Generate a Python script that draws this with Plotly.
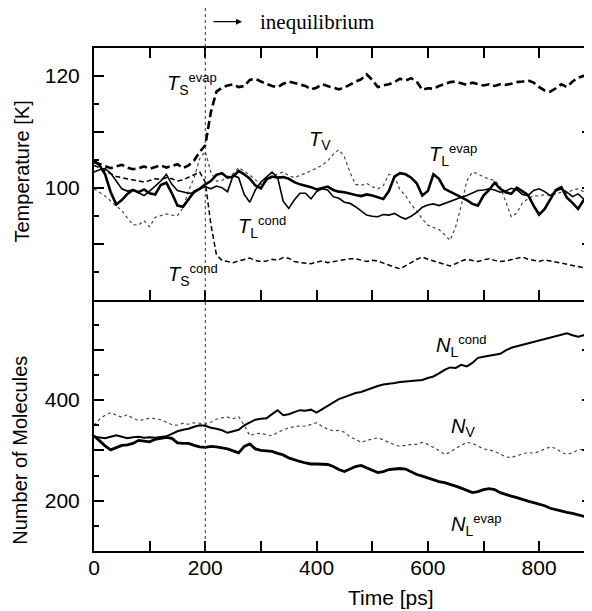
import plotly.graph_objects as go
from plotly.subplots import make_subplots

# time axis, one sample every 10 ps
time_ps = list(range(0, 901, 10))

# top panel: temperatures [K]
ts_evap = [104.6, 104.2, 103.8, 103.5, 103.8, 104.1, 103.6, 103.3, 103.5, 103.8,
           103.4, 103.7, 104.0, 103.6, 103.9, 104.2, 103.5, 104.0, 104.9, 106.4,
           107.6, 113.5, 117.2, 117.9, 118.3, 118.5, 118.0, 118.2, 119.3, 119.5,
           119.0, 118.6, 118.2, 118.0, 118.6, 119.0, 118.7, 118.4, 118.2, 117.6,
           117.9, 118.5, 118.2, 117.9, 117.6, 117.9, 118.5, 119.0, 119.4, 120.3,
           119.3, 118.0, 118.3, 118.5, 118.9, 119.5, 119.2, 119.6, 119.0, 117.5,
           117.8, 117.7, 118.2, 118.6, 118.9, 119.0, 118.7, 118.4, 118.8, 118.5,
           118.3, 118.5, 118.2, 118.5, 118.4, 118.6, 118.9, 119.0, 119.2, 118.8,
           118.0, 117.4, 117.2, 117.8, 118.5, 118.0, 119.0, 119.7, 120.0, 119.9,
           119.6]
ts_cond = [104.0, 103.6, 103.0, 102.5, 102.0, 101.8, 101.6, 101.4, 101.1, 101.0,
           101.3, 101.6, 101.5, 101.8, 101.6, 101.2, 101.4, 101.9, 102.4, 102.8,
           101.0, 93.5, 88.0, 87.0, 86.8, 86.6, 86.9, 87.2, 87.4, 87.0,
           86.8, 86.9, 87.2, 87.0, 87.5, 87.4, 86.8, 86.6, 86.5, 86.4,
           86.7, 86.9, 86.6, 86.8, 87.0, 87.1, 87.3, 87.3, 87.0, 86.8,
           87.0, 86.9, 86.5, 86.1, 85.8, 85.5, 86.0, 86.6, 87.2, 87.6,
           87.2, 86.9, 86.6, 86.3, 86.0, 86.4, 86.9, 87.2, 87.0, 86.8,
           87.1, 87.3, 87.0, 86.8, 86.9, 87.1, 87.4, 87.6, 87.2, 87.0,
           86.8, 87.1, 86.9, 86.7, 86.6, 86.4, 86.2, 86.0, 85.8, 85.5,
           85.6]
tv = [99.8, 99.2, 98.5, 97.6, 96.8, 95.9, 94.6, 93.4, 93.3, 94.1,
      93.0, 94.7, 95.0, 95.3, 95.1, 95.0, 96.4, 99.5, 101.8, 105.2,
      106.5, 102.8, 101.2, 101.3, 102.0, 102.5, 103.6, 103.0, 102.3, 101.4,
      100.6, 101.2, 101.9, 102.5, 102.8, 102.2, 101.8, 102.2, 102.5, 103.0,
      103.5, 104.0, 104.8, 106.0, 106.8, 105.5, 102.8, 100.6, 100.4, 100.8,
      100.2, 99.8, 100.4, 102.4, 102.0, 99.6, 98.6, 97.0, 95.8, 94.4,
      93.3, 92.9, 92.5, 91.6, 90.6, 93.0, 96.8, 101.2, 102.8, 102.5,
      101.9, 101.6, 101.3, 100.2, 97.6, 94.8, 95.5, 97.3, 98.0, 98.6,
      98.5, 98.8, 98.6, 98.9, 99.2, 99.0, 99.6, 99.8, 99.3, 99.0,
      98.8]
tl_evap = [104.9, 104.0, 102.4, 99.2, 97.0, 97.8, 98.9, 99.6, 99.2, 99.7,
           99.0, 98.8, 100.5, 100.9, 99.0, 96.8, 96.6, 97.9, 99.3, 99.8,
           100.6, 101.2, 102.3, 102.6, 101.8, 102.0, 103.0, 102.4, 101.6, 100.4,
           99.9, 101.5, 102.0, 101.8, 101.9, 101.6, 101.0, 100.6, 100.4, 100.1,
           99.7, 99.9, 100.2, 99.6, 99.3, 99.2, 98.9, 98.7, 98.5, 98.8,
           98.6, 98.3, 98.0, 99.4, 102.0, 102.6, 102.4, 101.8, 100.8, 98.6,
           99.4, 102.4, 101.6, 99.8, 99.3, 98.9, 98.3, 97.8, 97.1, 96.8,
           98.6, 99.6, 100.9, 99.8, 99.2, 98.9, 100.0, 99.4, 98.7, 96.8,
           95.2, 96.2, 97.9, 99.6, 100.1, 98.2, 97.3, 96.2, 97.8, 96.5,
           95.2]
tl_cond = [102.8, 103.2, 103.4, 102.6, 101.2, 99.8, 99.4, 99.6, 99.1, 98.6,
           99.4, 100.3, 101.2, 102.4, 100.6, 99.5, 99.2, 99.0, 99.1, 99.8,
           100.2, 99.8, 100.3, 100.0, 99.3, 102.2, 101.8, 98.8, 97.4, 99.6,
           101.0, 101.9, 102.8, 101.8, 97.6, 96.3, 97.8, 99.0, 99.0, 98.0,
           99.3, 99.8, 99.6, 98.4, 98.1, 97.4, 97.2, 96.6, 95.8, 95.1,
           94.9, 94.8, 95.2, 95.1, 95.4, 94.8, 94.4, 94.9, 95.6, 96.5,
           96.9, 97.1, 96.8, 97.2, 97.6, 97.9, 98.3, 98.6, 99.1, 99.5,
           99.6, 99.8, 99.6, 99.2, 99.4, 99.9, 99.6, 98.8, 98.6, 99.5,
           99.8, 99.3, 98.6, 99.4, 99.8, 99.2, 98.4, 98.9, 98.0, 97.4,
           97.0]

# bottom panel: number of molecules
nl_cond = [327, 325, 324, 327, 330, 327, 324, 326, 327, 325,
           326, 325, 327, 328, 333, 338, 341, 343, 347, 350,
           349, 345, 343, 340, 335, 338, 341, 350, 356, 361,
           363, 364, 372, 380, 370, 372, 376, 380, 379, 381,
           375, 382, 388, 395, 402, 406, 410, 414, 416, 420,
           425, 428, 431, 432, 434, 436, 437, 437, 439, 440,
           444, 447, 453, 460, 465, 464, 470, 467, 474, 484,
           486, 488, 490, 492, 499, 504, 507, 510, 513, 515,
           519, 521, 524, 527, 531, 533, 529, 526, 529, 531,
           530]
nv = [350, 362, 370, 375, 370, 366, 371, 364, 359, 362,
      364, 363, 361, 356, 351, 350, 354, 352, 355, 354,
      352, 356, 362, 365, 366, 363, 367, 350, 329, 333,
      334, 331, 329, 336, 341, 345, 347, 349, 348, 352,
      355, 348, 342, 339, 340, 336, 327, 322, 316, 320,
      322, 325, 321, 316, 311, 308, 310, 312, 312, 316,
      312, 306, 300, 292, 296, 304, 310, 316, 314, 308,
      303, 301, 298, 293, 287, 286, 290, 293, 296, 294,
      298, 302, 307, 304, 296, 292, 295, 301, 302, 301,
      303]
nl_evap = [329, 318, 309, 301, 305, 310, 311, 314, 320, 318,
           317, 322, 324, 326, 324, 315, 314, 314, 310, 307,
           306, 308, 307, 305, 303, 299, 295, 308, 313, 303,
           300, 299, 298, 294, 291, 285, 281, 278, 275, 273,
           273, 272, 272, 268, 262, 258, 263, 268, 270, 265,
           260, 256, 258, 262, 263, 264, 263, 257, 252, 249,
           245, 242, 238, 236, 233, 229, 225, 220, 216, 218,
           222, 224, 222, 216, 212, 209, 206, 202, 199, 196,
           193, 190, 185, 182, 180, 177, 175, 172, 169, 165,
           163]

fig = make_subplots(rows=2, cols=1, shared_xaxes=True, vertical_spacing=0)

top_lines = [
    (ts_evap, dict(color='black', width=2.6, dash='8px,4px')),
    (ts_cond, dict(color='black', width=1.5, dash='5px,3px')),
    (tv, dict(color='#444', width=1.2, dash='dot')),
    (tl_cond, dict(color='black', width=1.6)),
    (tl_evap, dict(color='black', width=2.6)),
]
for values, style in top_lines:
    fig.add_trace(go.Scatter(x=time_ps, y=values, mode='lines', line=style), row=1, col=1)

bottom_lines = [
    (nv, dict(color='#444', width=1.2, dash='dot')),
    (nl_cond, dict(color='black', width=2.0)),
    (nl_evap, dict(color='black', width=2.8)),
]
for values, style in bottom_lines:
    fig.add_trace(go.Scatter(x=time_ps, y=values, mode='lines', line=style), row=2, col=1)

tick_font = dict(family='Liberation Sans, Arial', size=21, color='black')
axis_common = dict(showline=True, linewidth=2, linecolor='black', ticks='inside',
                   ticklen=10, tickwidth=1.5, tickcolor='black', showgrid=False,
                   zeroline=False, tickfont=tick_font, automargin=False)

x_ticks = list(range(0, 901, 100))
x_text = [str(v) if v % 200 == 0 else '' for v in x_ticks]

fig.update_xaxes(range=[0, 895], tickvals=x_ticks, ticktext=x_text, **axis_common)
fig.update_xaxes(mirror='ticks', showticklabels=False, row=1, col=1)
fig.update_xaxes(mirror=False, ticklabelstandoff=-3, row=2, col=1)

fig.update_yaxes(range=[80, 125], tickvals=[90, 100, 110, 120], ticktext=['', '100', '', '120'],
                 mirror='ticks', ticklabelstandoff=8,
                 minor=dict(dtick=5, tick0=0, ticks='inside', ticklen=5, tickwidth=1.5, tickcolor='black'),
                 row=1, col=1, **axis_common)
fig.update_yaxes(range=[100, 600], tickvals=[200, 300, 400, 500], ticktext=['200', '', '400', ''],
                 mirror='ticks', ticklabelstandoff=8,
                 minor=dict(dtick=50, tick0=0, ticks='inside', ticklen=5, tickwidth=1.5, tickcolor='black'),
                 row=2, col=1, **axis_common)

# dotted marker at the onset of inequilibrium
fig.add_shape(type='line', xref='x', yref='paper', x0=200, x1=200, y0=0, y1=1.086,
              line=dict(color='#333', width=1, dash='dot'))


def sym(base, sub, sup=''):
    s = '<i>%s</i><sub><span style="font-size:14px">%s</span></sub>' % (base, sub)
    if sup:
        s += '<sup><span style="font-size:13px">%s</span></sup>' % sup
    return s


label_font = dict(family='Liberation Sans, Arial', size=20, color='black')
annotations = [
    dict(text='Temperature [K]', x=-0.145, y=0.754, xref='paper', yref='paper', textangle=-90),
    dict(text='Number of Molecules', x=-0.149, y=0.201, xref='paper', yref='paper', textangle=-90),
    dict(text='Time [ps]', x=534, y=-0.092, xref='x', yref='paper', font=dict(size=21)),
    dict(text='inequilibrium', x=295, y=1.052, xref='x', yref='paper', xanchor='left',
         font=dict(family='Liberation Serif, Times New Roman', size=21)),
    dict(text=sym('T', 'S', 'evap'), x=127, y=118.6, xref='x', yref='y', xanchor='left'),
    dict(text=sym('T', 'V'), x=383, y=108.5, xref='x', yref='y', xanchor='left'),
    dict(text=sym('T', 'L', 'evap'), x=599, y=105.8, xref='x', yref='y', xanchor='left'),
    dict(text=sym('T', 'L', 'cond'), x=256, y=92.9, xref='x', yref='y', xanchor='left'),
    dict(text=sym('T', 'S', 'cond'), x=130, y=84.3, xref='x', yref='y', xanchor='left'),
    dict(text=sym('N', 'L', 'cond'), x=611, y=507, xref='x', yref='y2', xanchor='left'),
    dict(text=sym('N', 'V'), x=638, y=344.6, xref='x', yref='y2', xanchor='left'),
    dict(text=sym('N', 'L', 'evap'), x=638, y=152.5, xref='x', yref='y2', xanchor='left'),
]
for a in annotations:
    a['font'] = {**label_font, **a.get('font', {})}
    a.setdefault('xanchor', 'center')
    a.setdefault('yanchor', 'middle')
    fig.add_annotation(showarrow=False, **a)

# small arrow pointing to the right, left of the label
fig.add_annotation(text='', x=266, y=1.0523, xref='x', yref='paper', ax=-30, ay=0,
                   showarrow=True, arrowhead=2, arrowsize=1, arrowwidth=1.2, arrowcolor='black',
                   standoff=0, startstandoff=0)

# the page puts the figure 8 px in from the top-left corner, so the figure is sized to fit
fig.update_layout(
    width=584,
    height=603,
    margin=dict(l=86, r=0, t=40, b=60),
    plot_bgcolor='white',
    paper_bgcolor='white',
    showlegend=False,
    font=dict(family='Liberation Sans, Arial', color='black'),
)

fig.write_html("out.html")
